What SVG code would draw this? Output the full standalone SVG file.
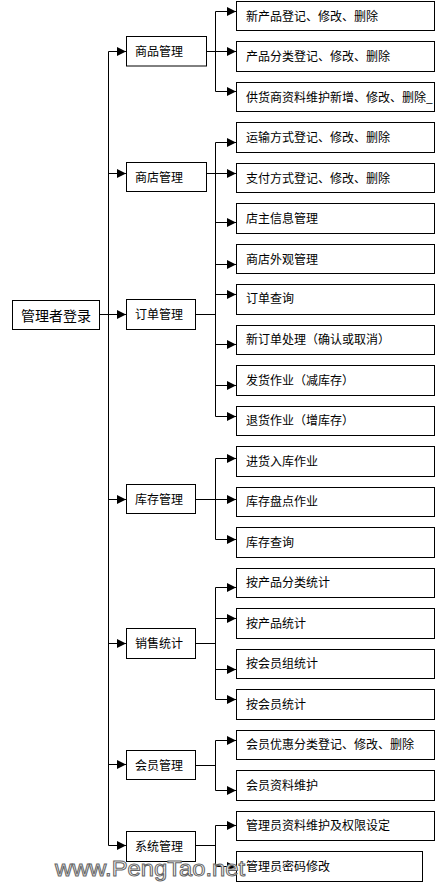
<svg xmlns="http://www.w3.org/2000/svg" width="443" height="882" viewBox="0 0 443 882">
<style>
.box{fill:#fff;stroke:#000;stroke-width:1}
.t{font-family:"Noto Sans CJK SC","Noto Sans CJK JP",sans-serif;font-size:12px;fill:#000}
.tr{font-family:"Noto Sans CJK SC","Noto Sans CJK JP",sans-serif;font-size:14px;fill:#000}
.ln{fill:none;stroke:#000;stroke-width:1}
.wm{font-family:"Liberation Sans",Arial,sans-serif;font-size:22px;fill:#fff;stroke:#666;stroke-width:1}
</style>
<defs>
<marker id="ah" markerUnits="userSpaceOnUse" markerWidth="10" markerHeight="10" refX="9" refY="4.5" orient="auto" viewBox="0 0 10 10">
<path d="M0,0 L9,4.5 L0,9 z" fill="#000"/>
</marker>
</defs>
<rect width="443" height="882" fill="#fff"/>
<g id="connectors">
<path class="ln" d="M99.5,314.5 H108.5 M108.5,51.5 V845.5"/>
<path class="ln" marker-end="url(#ah)" d="M108.5,51.5 H126"/>
<path class="ln" marker-end="url(#ah)" d="M108.5,173.5 H126"/>
<path class="ln" marker-end="url(#ah)" d="M108.5,314.5 H126"/>
<path class="ln" marker-end="url(#ah)" d="M108.5,499.5 H126"/>
<path class="ln" marker-end="url(#ah)" d="M108.5,643.5 H126"/>
<path class="ln" marker-end="url(#ah)" d="M108.5,764.5 H126"/>
<path class="ln" marker-end="url(#ah)" d="M108.5,845.5 H126"/>
<path class="ln" d="M206.5,51.5 H215.5 M206.5,173.5 H215.5 M195.5,314.5 H215.5 M195.5,499.5 H215.5 M195.5,643.5 H215.5 M195.5,765.5 H215.5 M195.5,845.5 H215.5"/>
<path class="ln" d="M215.5,11.5 V91.5 M215.5,142.5 V416.5 M215.5,458.5 V539.5 M215.5,587.5 V699.5 M215.5,740.5 V790.5 M215.5,825.5 V866.5"/>
<path class="ln" marker-end="url(#ah)" d="M215.5,11.5 H236"/>
<path class="ln" marker-end="url(#ah)" d="M215.5,51.5 H236"/>
<path class="ln" marker-end="url(#ah)" d="M215.5,91.5 H236"/>
<path class="ln" marker-end="url(#ah)" d="M215.5,142.5 H236"/>
<path class="ln" marker-end="url(#ah)" d="M215.5,173.5 H236"/>
<path class="ln" marker-end="url(#ah)" d="M215.5,222.5 H236"/>
<path class="ln" marker-end="url(#ah)" d="M215.5,264.5 H236"/>
<path class="ln" marker-end="url(#ah)" d="M215.5,294.5 H236"/>
<path class="ln" marker-end="url(#ah)" d="M215.5,344.5 H236"/>
<path class="ln" marker-end="url(#ah)" d="M215.5,385.5 H236"/>
<path class="ln" marker-end="url(#ah)" d="M215.5,416.5 H236"/>
<path class="ln" marker-end="url(#ah)" d="M215.5,458.5 H236"/>
<path class="ln" marker-end="url(#ah)" d="M215.5,499.5 H236"/>
<path class="ln" marker-end="url(#ah)" d="M215.5,539.5 H236"/>
<path class="ln" marker-end="url(#ah)" d="M215.5,587.5 H236"/>
<path class="ln" marker-end="url(#ah)" d="M215.5,618.5 H236"/>
<path class="ln" marker-end="url(#ah)" d="M215.5,669.5 H236"/>
<path class="ln" marker-end="url(#ah)" d="M215.5,699.5 H236"/>
<path class="ln" marker-end="url(#ah)" d="M215.5,740.5 H236"/>
<path class="ln" marker-end="url(#ah)" d="M215.5,790.5 H236"/>
<path class="ln" marker-end="url(#ah)" d="M215.5,825.5 H236"/>
<path class="ln" marker-end="url(#ah)" d="M215.5,866.5 H236"/>
</g>
<g id="root"><rect class="box" x="12.5" y="300.5" width="87" height="29"/><text class="tr" x="21" y="321">管理者登录</text></g>
<g id="m1"><rect class="box" x="126.5" y="36.5" width="80" height="29.5"/><text class="t" x="135" y="56">商品管理</text></g>
<g id="m2"><rect class="box" x="126.5" y="162.5" width="80" height="29"/><text class="t" x="135" y="181.5">商店管理</text></g>
<g id="m3"><rect class="box" x="126.5" y="299.5" width="69" height="30"/><text class="t" x="135" y="319">订单管理</text></g>
<g id="m4"><rect class="box" x="126.5" y="484.5" width="69" height="29"/><text class="t" x="135" y="503.5">库存管理</text></g>
<g id="m5"><rect class="box" x="126.5" y="628.5" width="69" height="30"/><text class="t" x="135" y="648">销售统计</text></g>
<g id="m6"><rect class="box" x="126.5" y="750.5" width="69" height="29"/><text class="t" x="135" y="769.5">会员管理</text></g>
<g id="m7"><rect class="box" x="126.5" y="831.5" width="69" height="30"/><text class="t" x="135" y="851">系统管理</text></g>
<g id="c1"><rect class="box" x="236.5" y="1.5" width="198" height="29"/><text class="t" x="246" y="20.5">新产品登记、修改、删除</text></g>
<g id="c2"><rect class="box" x="236.5" y="41.5" width="198" height="30"/><text class="t" x="246" y="60.5">产品分类登记、修改、删除</text></g>
<g id="c3"><rect class="box" x="236.5" y="82.5" width="198" height="29"/><text class="t" x="246" y="101.5">供货商资料维护新增、修改、删除_</text></g>
<g id="c4"><rect class="box" x="236.5" y="122.5" width="198" height="30"/><text class="t" x="246" y="141.5">运输方式登记、修改、删除</text></g>
<g id="c5"><rect class="box" x="236.5" y="163.5" width="198" height="29"/><text class="t" x="246" y="182.5">支付方式登记、修改、删除</text></g>
<g id="c6"><rect class="box" x="236.5" y="203.5" width="198" height="30"/><text class="t" x="246" y="222.5">店主信息管理</text></g>
<g id="c7"><rect class="box" x="236.5" y="244.5" width="198" height="29"/><text class="t" x="246" y="263.5">商店外观管理</text></g>
<g id="c8"><rect class="box" x="236.5" y="284.5" width="198" height="30"/><text class="t" x="246" y="303">订单查询</text></g>
<g id="c9"><rect class="box" x="236.5" y="325.5" width="198" height="29"/><text class="t" x="246" y="344">新订单处理（确认或取消）</text></g>
<g id="c10"><rect class="box" x="236.5" y="365.5" width="198" height="30"/><text class="t" x="246" y="384.5">发货作业（减库存）</text></g>
<g id="c11"><rect class="box" x="236.5" y="406.5" width="198" height="29"/><text class="t" x="246" y="425">退货作业（增库存）</text></g>
<g id="c12"><rect class="box" x="236.5" y="446.5" width="198" height="30"/><text class="t" x="246" y="465.5">进货入库作业</text></g>
<g id="c13"><rect class="box" x="236.5" y="487.5" width="198" height="29"/><text class="t" x="246" y="506">库存盘点作业</text></g>
<g id="c14"><rect class="box" x="236.5" y="527.5" width="198" height="30"/><text class="t" x="246" y="546.5">库存查询</text></g>
<g id="c15"><rect class="box" x="236.5" y="568.5" width="198" height="29"/><text class="t" x="246" y="587">按产品分类统计</text></g>
<g id="c16"><rect class="box" x="236.5" y="608.5" width="198" height="30"/><text class="t" x="246" y="627.5">按产品统计</text></g>
<g id="c17"><rect class="box" x="236.5" y="649.5" width="198" height="29"/><text class="t" x="246" y="668">按会员组统计</text></g>
<g id="c18"><rect class="box" x="236.5" y="689.5" width="198" height="30"/><text class="t" x="246" y="708.5">按会员统计</text></g>
<g id="c19"><rect class="box" x="236.5" y="730.5" width="198" height="29"/><text class="t" x="246" y="749">会员优惠分类登记、修改、删除</text></g>
<g id="c20"><rect class="box" x="236.5" y="770.5" width="198" height="30"/><text class="t" x="246" y="789.5">会员资料维护</text></g>
<g id="c21"><rect class="box" x="236.5" y="811.5" width="198" height="29"/><text class="t" x="246" y="830">管理员资料维护及权限设定</text></g>
<g id="c22"><rect class="box" x="236.5" y="851.5" width="186" height="30"/><text class="t" x="246" y="870.5">管理员密码修改</text></g>
<text class="wm" x="55" y="876" textLength="190" lengthAdjust="spacingAndGlyphs">www.PengTao.net</text>
</svg>
